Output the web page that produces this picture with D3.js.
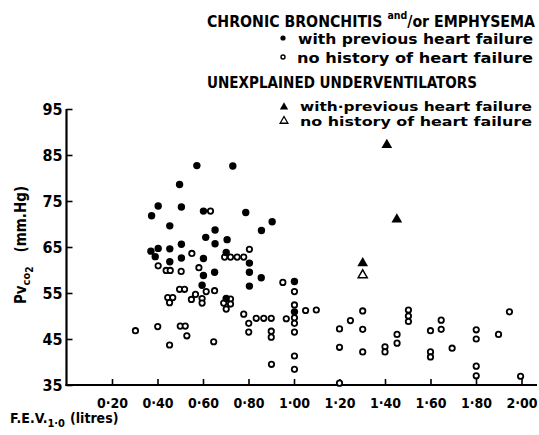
<!DOCTYPE html>
<html>
<head>
<meta charset="utf-8">
<script src="https://cdn.jsdelivr.net/npm/d3@7"></script>
<style>
  body { margin: 0; background: #fff; }
  svg { display: block; }
  text { font-family: "Liberation Sans Narrow", "DejaVu Sans Condensed", "DejaVu Sans", sans-serif; font-weight: bold; fill: #000; }
</style>
</head>
<body>
<div id="chart"></div>
<script>
// F.E.V.1.0 (litres), Pvco2 (mm.Hg)
var bronchitisHeartFailure = [
    [0.573, 82.7], [0.731, 82.6], [0.497, 78.6], [0.403, 73.9], [0.505, 73.7],
    [0.602, 72.8], [0.788, 72.5], [0.374, 71.8], [0.904, 70.5], [0.454, 69.6],
    [0.653, 68.7], [0.857, 68.6], [0.612, 67.1], [0.706, 66.6], [0.505, 65.6],
    [0.653, 65.7], [0.403, 64.7], [0.454, 64.6], [0.371, 64.1], [0.702, 63.8],
    [0.390, 62.9], [0.505, 62.6], [0.602, 62.5], [0.454, 61.8], [0.804, 61.5],
    [0.651, 59.5], [0.804, 59.5], [0.602, 58.8], [0.856, 58.3], [1.002, 57.5],
    [0.596, 56.7], [0.804, 56.5], [0.702, 53.8], [1.002, 50.9]
];

var bronchitisNoHistory = [
    [0.633, 72.8], [0.804, 64.5], [0.551, 63.6], [0.695, 62.8], [0.721, 62.8],
    [0.750, 62.8], [0.779, 62.8], [0.403, 60.9], [0.582, 60.5], [0.438, 59.9],
    [0.456, 59.9], [0.504, 59.7], [0.951, 57.3], [0.497, 55.8], [0.519, 55.8],
    [0.651, 55.5], [0.614, 55.3], [1.002, 55.3], [0.567, 54.7], [0.445, 54.0],
    [0.467, 54.0], [0.596, 53.8], [0.549, 53.6], [0.721, 53.7], [0.453, 52.9],
    [0.596, 52.8], [0.691, 52.8], [0.721, 52.6], [1.002, 52.4], [0.702, 51.5],
    [1.051, 51.2], [1.098, 51.3], [1.503, 51.3], [1.302, 51.1], [1.947, 50.9],
    [0.779, 50.4], [1.503, 50.0], [0.834, 49.5], [0.867, 49.5], [0.900, 49.5],
    [0.966, 49.4], [1.002, 49.6], [1.647, 49.1], [1.248, 49.0], [1.503, 48.8],
    [0.801, 48.4], [1.002, 48.4], [0.500, 47.8], [0.522, 47.8], [0.401, 47.7],
    [1.200, 47.2], [1.302, 47.1], [1.647, 47.1], [1.801, 47.0], [0.303, 46.8],
    [0.900, 46.7], [1.600, 46.8], [0.801, 46.5], [1.002, 46.5], [1.453, 46.0],
    [1.899, 46.0], [0.529, 45.7], [0.900, 45.4], [1.801, 45.0], [0.647, 44.4],
    [1.453, 44.1], [0.453, 43.7], [1.400, 43.3], [1.200, 43.2], [1.695, 43.0],
    [1.400, 42.2], [1.302, 42.2], [1.600, 42.2], [1.002, 41.3], [1.600, 41.1],
    [0.901, 39.5], [1.801, 39.1], [1.002, 38.4], [1.801, 37.0], [1.996, 36.9],
    [1.200, 35.4]
];

var underventHeartFailure = [[1.408, 87.2], [1.452, 71.0], [1.302, 61.5]];
var underventNoHistory = [[1.302, 58.9]];

var xTicks = [0.2, 0.4, 0.6, 0.8, 1.0, 1.2, 1.4, 1.6, 1.8, 2.0];
var yTicks = [35, 45, 55, 65, 75, 85, 95];

var width = 539;
var height = 435;

var svg = d3.select("#chart")
    .append("svg")
    .attr("width", width)
    .attr("height", height);

var x = d3.scaleLinear().domain([0, 2]).range([66.5, 521.5]);
var y = d3.scaleLinear().domain([35, 95]).range([385, 109]);

var fmt = function (d) { return d3.format(".2f")(d).replace(".", "\u00b7"); };

// x axis, ticks pointing up
var gx = svg.append("g")
    .attr("transform", "translate(0," + y(35) + ")")
    .call(d3.axisBottom(x).tickValues(xTicks).tickSize(-6).tickPadding(13).tickFormat(fmt));
gx.select(".domain").remove();
gx.selectAll(".tick line").attr("stroke-width", 1.6);
gx.selectAll("text").attr("font-size", 14);

svg.append("line")
    .attr("x1", x(0) - 1).attr("x2", 537)
    .attr("y1", y(35)).attr("y2", y(35))
    .attr("stroke", "#000").attr("stroke-width", 2.2);

// y axis, ticks pointing right
var gy = svg.append("g")
    .attr("transform", "translate(" + x(0) + ",0)")
    .call(d3.axisLeft(y).tickValues(yTicks).tickSize(-6).tickPadding(4));
gy.select(".domain").remove();
gy.selectAll(".tick line").attr("stroke-width", 1.6);
gy.selectAll("text").attr("font-size", 16).attr("dy", "0.36em");

svg.append("line")
    .attr("x1", x(0)).attr("x2", x(0))
    .attr("y1", y(95)).attr("y2", y(35) + 1)
    .attr("stroke", "#000").attr("stroke-width", 2.2);

// axis titles
var xt = svg.append("text").attr("x", 10).attr("y", 423).attr("font-size", 14);
xt.append("tspan").text("F.E.V.");
xt.append("tspan").attr("dy", 4).attr("font-size", 11).text("1\u00b70");
xt.append("tspan").attr("dy", -4).attr("dx", 5).text("(litres)");

var yt = svg.append("text")
    .attr("transform", "translate(26,245) rotate(-90)")
    .attr("text-anchor", "middle")
    .attr("font-size", 15);
yt.append("tspan").text("Pv");
yt.append("tspan").attr("dy", 4).attr("font-size", 11).text("co");
yt.append("tspan").attr("dy", 3).attr("font-size", 10).text("2");
yt.append("tspan").attr("dy", -7).attr("dx", 14).text("(mm.Hg)");

// points
var tri = d3.symbol().type(d3.symbolTriangle).size(50);

svg.append("g").selectAll("circle")
    .data(bronchitisNoHistory)
    .enter().append("circle")
    .attr("cx", function (d) { return x(d[0]); })
    .attr("cy", function (d) { return y(d[1]); })
    .attr("r", 2.7)
    .attr("fill", "#fff")
    .attr("stroke", "#000")
    .attr("stroke-width", 1.8);

svg.append("g").selectAll("circle")
    .data(bronchitisHeartFailure)
    .enter().append("circle")
    .attr("cx", function (d) { return x(d[0]); })
    .attr("cy", function (d) { return y(d[1]); })
    .attr("r", 3.7)
    .attr("fill", "#000");

svg.append("g").selectAll("path")
    .data(underventHeartFailure)
    .enter().append("path")
    .attr("d", tri)
    .attr("transform", function (d) { return "translate(" + x(d[0]) + "," + y(d[1]) + ")"; })
    .attr("fill", "#000");

svg.append("g").selectAll("path")
    .data(underventNoHistory)
    .enter().append("path")
    .attr("d", d3.symbol().type(d3.symbolTriangle).size(36))
    .attr("transform", function (d) { return "translate(" + x(d[0]) + "," + y(d[1]) + ")"; })
    .attr("fill", "#fff")
    .attr("stroke", "#000")
    .attr("stroke-width", 1.5);

// legend
var lg = svg.append("g");
function line(txt, x0, y0, len, size) {
    lg.append("text").attr("x", x0).attr("y", y0).attr("font-size", size)
        .attr("textLength", len).attr("lengthAdjust", "spacingAndGlyphs").text(txt);
}
var head = lg.append("text").attr("x", 207).attr("y", 27).attr("font-size", 15)
    .attr("textLength", 328).attr("lengthAdjust", "spacingAndGlyphs");
head.append("tspan").text("CHRONIC BRONCHITIS ");
head.append("tspan").attr("dy", -8).attr("font-size", 10).text("and");
head.append("tspan").attr("dy", 8).text("/or EMPHYSEMA");

line("with previous heart failure", 298, 44, 235, 14);
line("no history of heart failure", 297, 63, 236, 14);
line("UNEXPLAINED UNDERVENTILATORS", 207, 88, 270, 15);
line("with\u00b7previous heart failure", 300, 111, 232, 13);
line("no history of heart failure", 300, 126, 232, 13);

lg.append("circle").attr("cx", 283).attr("cy", 38).attr("r", 2.6).attr("fill", "#000");
lg.append("circle").attr("cx", 283).attr("cy", 57).attr("r", 2).attr("fill", "#fff")
    .attr("stroke", "#000").attr("stroke-width", 1.4);
lg.append("path").attr("d", d3.symbol().type(d3.symbolTriangle).size(30))
    .attr("transform", "translate(284,107)").attr("fill", "#000");
lg.append("path").attr("d", d3.symbol().type(d3.symbolTriangle).size(26))
    .attr("transform", "translate(284,121)").attr("fill", "#fff")
    .attr("stroke", "#000").attr("stroke-width", 1.3);
</script>
</body>
</html>
